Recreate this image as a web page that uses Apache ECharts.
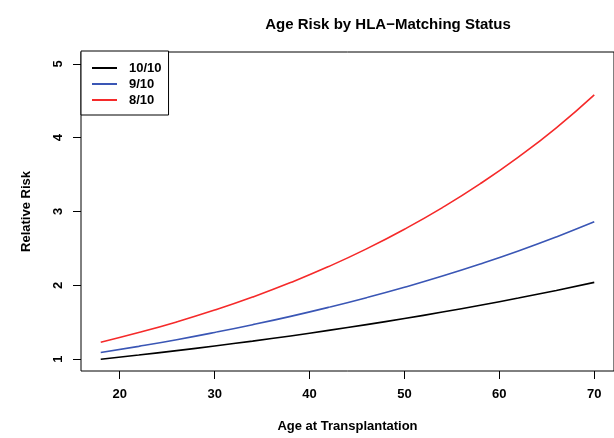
<!DOCTYPE html>
<html>
<head>
<meta charset="utf-8">
<script src="https://cdn.jsdelivr.net/npm/echarts@6/dist/echarts.min.js"></script>
<style>
  html, body { margin: 0; padding: 0; background: #fff; }
  #chart { width: 614px; height: 438px; }
</style>
</head>
<body>
<div id="chart"></div>
<script>
// ages
const ages = [18, 22, 26, 30, 34, 38, 42, 46, 50, 54, 58, 62, 66, 70];
// relative risk
const risk1010 = [1.00, 1.056, 1.116, 1.179, 1.245, 1.315, 1.390, 1.468, 1.551, 1.638, 1.730, 1.828, 1.931, 2.04];
const risk910 = [1.09, 1.174, 1.264, 1.362, 1.467, 1.580, 1.702, 1.833, 1.974, 2.126, 2.290, 2.466, 2.656, 2.86];
const risk810 = [1.23, 1.361, 1.505, 1.665, 1.842, 2.038, 2.254, 2.494, 2.760, 3.053, 3.377, 3.736, 4.133, 4.58];

const xTicks = [20, 30, 40, 50, 60, 70];
const yTicks = [1, 2, 3, 4, 5];

const font = 'Liberation Sans, Arial, sans-serif';

let pairs = (ys) => ages.map((a, i) => [a, ys[i]]);

let chart = echarts.init(document.getElementById('chart'));

let option = {
  backgroundColor: '#fff',
  animation: false,
  textStyle: { fontFamily: font, color: '#000' },
  title: {
    text: 'Age Risk by HLA\u2212Matching Status',
    left: 383,
    textAlign: 'center',
    top: 12,
    textStyle: { fontFamily: font, fontSize: 15, fontWeight: 'bold', color: '#000' }
  },
  grid: {
    left: 81,
    top: 52,
    right: -3,
    bottom: 62,
    show: true,
    borderColor: '#000',
    borderWidth: 1,
    containLabel: false
  },
  legend: {
    left: 81,
    top: 51,
    orient: 'vertical',
    backgroundColor: '#fff',
    borderColor: '#000',
    borderWidth: 1,
    padding: [10, 7, 8, 11],
    itemGap: 2,
    itemWidth: 25,
    itemHeight: 2,
    icon: 'rect',
    textStyle: { fontFamily: font, fontSize: 13, lineHeight: 14, fontWeight: 'bold', color: '#000', padding: [0, 0, 0, 7] },
    data: ['10/10', '9/10', '8/10']
  },
  xAxis: {
    type: 'value',
    min: 15.92,
    max: 72.08,
    name: 'Age at Transplantation',
    nameLocation: 'middle',
    nameGap: 49,
    nameTextStyle: { fontFamily: font, fontSize: 13, fontWeight: 'bold', color: '#000' },
    axisLine: { show: false },
    splitLine: { show: false },
    axisTick: { show: true, inside: false, length: 8, customValues: xTicks, lineStyle: { color: '#000', width: 1 } },
    axisLabel: { customValues: xTicks, margin: 17, fontFamily: font, fontSize: 13, fontWeight: 'bold', color: '#000' }
  },
  yAxis: {
    type: 'value',
    min: 0.84,
    max: 5.16,
    name: 'Relative Risk',
    nameLocation: 'middle',
    nameGap: 48,
    nameRotate: 90,
    nameTextStyle: { fontFamily: font, fontSize: 13, fontWeight: 'bold', color: '#000' },
    axisLine: { show: false },
    splitLine: { show: false },
    axisTick: { show: true, inside: false, length: 8, customValues: yTicks, lineStyle: { color: '#000', width: 1 } },
    axisLabel: { customValues: yTicks, rotate: 90, margin: 16, fontFamily: font, fontSize: 13, fontWeight: 'bold', color: '#000' }
  },
  series: [
    { name: '10/10', type: 'line', data: pairs(risk1010), smooth: true, symbol: 'none', color: '#000', lineStyle: { color: '#000', width: 1.6 } },
    { name: '9/10', type: 'line', data: pairs(risk910), smooth: true, symbol: 'none', color: '#3a56b5', lineStyle: { color: '#3a56b5', width: 1.6 } },
    { name: '8/10', type: 'line', data: pairs(risk810), smooth: true, symbol: 'none', color: '#f52a2a', lineStyle: { color: '#f52a2a', width: 1.6 } }
  ]
};

chart.setOption(option);
</script>
</body>
</html>
